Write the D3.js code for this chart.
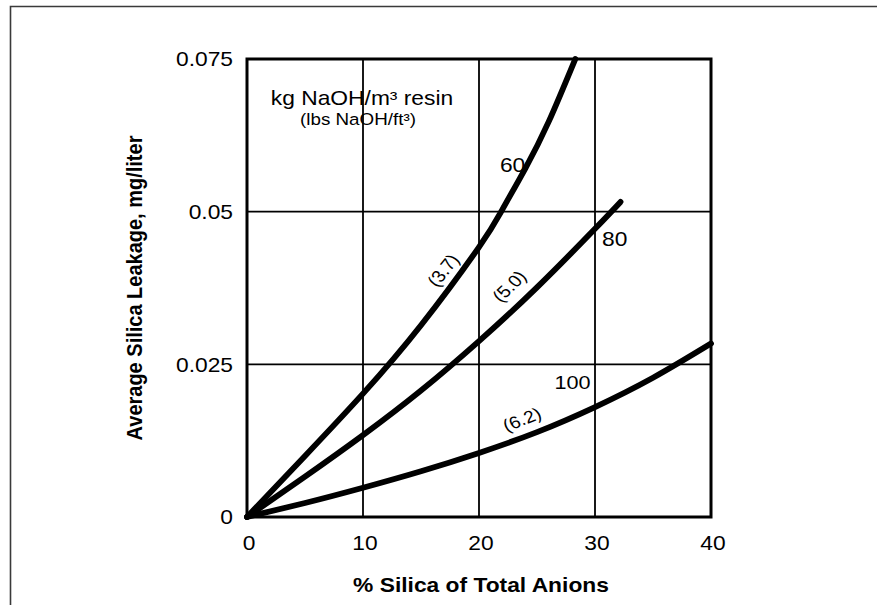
<!DOCTYPE html>
<html><head><meta charset="utf-8">
<script src="https://cdn.jsdelivr.net/npm/d3@7"></script>
<style>body{margin:0;background:#fff}</style>
</head><body><svg id="chart" width="877" height="605"></svg>
<script>
// ---- data ----
const xTicks = [0, 10, 20, 30, 40];
const xTickLabels = ["0", "10", "20", "30", "40"];
const yTicks = [0, 0.025, 0.05, 0.075];
const yTickLabels = ["0", "0.025", "0.05", "0.075"];

const silica60 = [0, 5, 10, 15, 20, 22, 24, 26, 28.3];
const leak60   = [0, 0.0100, 0.0202, 0.0314, 0.0442, 0.0503, 0.0571, 0.0647, 0.0750];
const silica80 = [0, 5, 10, 15, 20, 25, 30, 32.2];
const leak80   = [0, 0.0066, 0.0134, 0.0207, 0.0288, 0.0376, 0.0472, 0.0516];
const silica100 = [0, 5, 10, 15, 20, 25, 30, 35, 40];
const leak100   = [0, 0.0023, 0.0048, 0.0075, 0.0105, 0.0139, 0.0180, 0.0228, 0.0284];

const doseLabels = ["60", "80", "100"];
const doseLbsLabels = ["(3.7)", "(5.0)", "(6.2)"];
const legendTitle = "kg NaOH/m³ resin";
const legendSub = "(lbs NaOH/ft³)";
const xTitle = "% Silica of Total Anions";
const yTitle = "Average Silica Leakage, mg/liter";

// ---- layout ----
const svg = d3.select("#chart");
const FONT = "'Liberation Sans', Arial, Helvetica, sans-serif";
const SX = 1.14; // horizontal stretch of the scanned lettering
const x = d3.scaleLinear().domain([0, 40]).range([247, 711]);
const y = d3.scaleLinear().domain([0, 0.075]).range([517, 59]);

// outer frame (partial)
svg.append("path").attr("d", "M10.5,605 L10.5,6.5 L877,6.5")
  .attr("fill", "none").attr("stroke", "#3a3a3a").attr("stroke-width", 1.6);

// grid
const g = svg.append("g");
g.selectAll("line.vx").data(xTicks.slice(1, -1)).enter().append("line")
  .attr("x1", d => x(d)).attr("x2", d => x(d)).attr("y1", y(0)).attr("y2", y(0.075))
  .attr("stroke", "#000").attr("stroke-width", 1.8);
g.selectAll("line.hy").data(yTicks.slice(1, -1)).enter().append("line")
  .attr("x1", x(0)).attr("x2", x(40)).attr("y1", d => y(d)).attr("y2", d => y(d))
  .attr("stroke", "#000").attr("stroke-width", 1.8);
g.append("rect").attr("x", x(0)).attr("y", y(0.075))
  .attr("width", x(40) - x(0)).attr("height", y(0) - y(0.075))
  .attr("fill", "none").attr("stroke", "#000").attr("stroke-width", 3);

function txt(str, px, py, opts = {}) {
  const t = svg.append("text").text(str)
    .attr("font-family", FONT)
    .attr("font-size", opts.size || 20)
    .attr("font-weight", opts.weight || "normal")
    .attr("text-anchor", opts.anchor || "start")
    .attr("fill", "#000")
    .attr("transform", `translate(${px},${py}) scale(${SX},1)` + (opts.rot ? ` rotate(${opts.rot})` : ""));
  if (opts.middle) t.attr("dy", "0.36em");
  return t;
}

// tick labels
xTicks.forEach((d, i) => txt(xTickLabels[i], x(d) + 2, 550, {anchor: "middle"}));
yTicks.forEach((d, i) => txt(yTickLabels[i], x(0) - 14, y(d), {anchor: "end", middle: true}));

// axis titles
txt(xTitle, (x(0) + x(40)) / 2 + 2, 592, {anchor: "middle", weight: "bold"});
txt(yTitle, 142, y(0.0375), {anchor: "middle", weight: "bold", rot: -90});

// curves
const line = d3.line().x(d => x(d[0])).y(d => y(d[1])).curve(d3.curveNatural);
const series = [d3.zip(silica60, leak60), d3.zip(silica80, leak80), d3.zip(silica100, leak100)];
svg.append("g").selectAll("path").data(series).enter().append("path")
  .attr("d", line).attr("fill", "none").attr("stroke", "#000")
  .attr("stroke-width", 5.8).attr("stroke-linecap", "round").attr("stroke-linejoin", "round");

// legend title
txt(legendTitle, 362, 105, {anchor: "middle", size: 20});
txt(legendSub, 358, 125, {anchor: "middle", size: 16.5});

// curve labels
txt(doseLabels[0], x(21.8), y(0.0565), {size: 20});
txt(doseLabels[1], x(30.6), y(0.0443), {size: 20});
txt(doseLabels[2], x(26.5), y(0.0210), {size: 19});
txt(doseLbsLabels[0], x(16.9), y(0.0404), {size: 17, anchor: "middle", middle: true, rot: -55});
txt(doseLbsLabels[1], x(22.6), y(0.0378), {size: 17, anchor: "middle", middle: true, rot: -48});
txt(doseLbsLabels[2], x(23.7), y(0.0160), {size: 17, anchor: "middle", middle: true, rot: -24});
</script></body></html>
